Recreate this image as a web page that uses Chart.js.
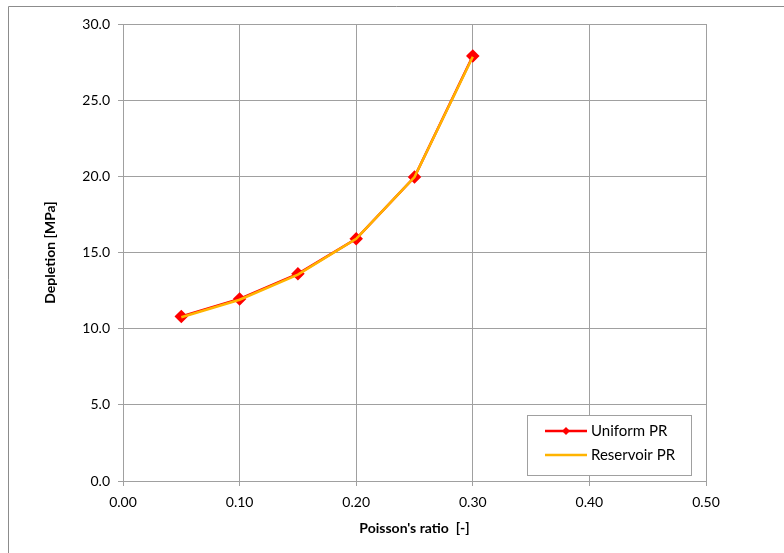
<!DOCTYPE html>
<html><head><meta charset="utf-8">
<script src="https://cdn.jsdelivr.net/npm/chart.js@4"></script>
<style>html,body{margin:0;padding:0;background:#fff;}#wrap{width:784px;height:553px;position:relative;}</style>
</head><body><div id="wrap"><canvas id="c" width="784" height="553"></canvas></div>
<script>
const poissonRatio = [0.05, 0.10, 0.15, 0.20, 0.25, 0.30];
const uniformPR = [10.8, 11.95, 13.6, 15.9, 19.95, 27.9];
const reservoirPR = [10.75, 11.9, 13.55, 15.9, 19.95, 27.85];
const seriesNames = ["Uniform PR", "Reservoir PR"];
const xTitle = "Poisson's ratio  [-]";
const yTitle = "Depletion [MPa]";

const FONT = "Lato, 'Open Sans', sans-serif";
const gridColor = '#a0a0a0';

const framePlugin = {
  id: 'frame',
  beforeDraw(chart) {
    const ctx = chart.ctx;
    ctx.save();
    ctx.fillStyle = '#fff';
    ctx.fillRect(0, 0, chart.width, chart.height);
    ctx.strokeStyle = '#8c8c8c';
    ctx.lineWidth = 1;
    ctx.beginPath();
    ctx.moveTo(8.5, chart.height);
    ctx.lineTo(8.5, 6.5);
    ctx.lineTo(chart.width, 6.5);
    ctx.stroke();
    ctx.restore();
  }
};

const legendPlugin = {
  id: 'boxLegend',
  afterDraw(chart) {
    const ctx = chart.ctx;
    const ds = chart.data.datasets;
    const x0 = 527, y0 = 415, w = 164, h = 60;
    ctx.save();
    ctx.fillStyle = '#fff';
    ctx.fillRect(x0, y0, w, h);
    ctx.strokeStyle = '#a0a0a0';
    ctx.lineWidth = 1;
    ctx.strokeRect(x0 + 0.5, y0 + 0.5, w, h);
    ds.forEach((d, i) => {
      const cy = y0 + 16 + i * 24;
      ctx.strokeStyle = d.borderColor;
      ctx.lineWidth = 2.5;
      ctx.beginPath();
      ctx.moveTo(x0 + 18, cy);
      ctx.lineTo(x0 + 60, cy);
      ctx.stroke();
      if (d.pointRadius > 0) {
        ctx.fillStyle = d.pointBackgroundColor;
        ctx.beginPath();
        const cx = x0 + 39, r = 4;
        ctx.moveTo(cx, cy - r); ctx.lineTo(cx + r, cy); ctx.lineTo(cx, cy + r); ctx.lineTo(cx - r, cy); ctx.closePath();
        ctx.fill();
      }
      ctx.fillStyle = '#000';
      ctx.font = '15px ' + FONT;
      ctx.textBaseline = 'middle';
      ctx.textAlign = 'left';
      ctx.fillText(d.label, x0 + 64, cy);
    });
    ctx.restore();
  }
};

new Chart(document.getElementById('c'), {
  type: 'line',
  data: {
    datasets: [
      {
        label: seriesNames[0],
        data: poissonRatio.map((x, i) => ({x, y: uniformPR[i]})),
        borderColor: '#ff0000',
        backgroundColor: '#ff0000',
        pointBackgroundColor: '#ff0000',
        pointBorderColor: '#ff0000',
        pointStyle: 'rectRot',
        pointRadius: 5,
        borderWidth: 2.5,
        tension: 0,
        order: 2
      },
      {
        label: seriesNames[1],
        data: poissonRatio.map((x, i) => ({x, y: reservoirPR[i]})),
        borderColor: '#ffb400',
        backgroundColor: '#ffb400',
        pointBackgroundColor: '#ffb400',
        pointRadius: 0,
        borderWidth: 2.5,
        tension: 0,
        order: 1
      }
    ]
  },
  options: {
    responsive: false,
    animation: false,
    events: [],
    layout: { padding: { left: 38, right: 78, top: 24, bottom: 12 } },
    plugins: { legend: { display: false }, tooltip: { enabled: false } },
    scales: {
      x: {
        type: 'linear', min: 0, max: 0.5,
        ticks: { stepSize: 0.1, color: '#000', font: { family: FONT, size: 14 }, padding: 8,
          callback: v => Number(v).toFixed(2) },
        grid: { color: gridColor, lineWidth: 1, tickLength: 5, tickColor: gridColor },
        border: { color: gridColor, width: 1 },
        title: { display: true, text: xTitle, color: '#000', font: { family: FONT, size: 14, weight: 'bold' }, padding: { top: 6 } },
        afterFit(s) { s.height = 60; }
      },
      y: {
        min: 0, max: 30,
        ticks: { stepSize: 5, color: '#000', font: { family: FONT, size: 14 }, padding: 8,
          callback: v => Number(v).toFixed(1) },
        grid: { color: gridColor, lineWidth: 1, tickLength: 5, tickColor: gridColor },
        border: { color: gridColor, width: 1 },
        title: { display: true, text: yTitle, color: '#000', font: { family: FONT, size: 14, weight: 'bold' }, padding: { bottom: 8 } },
        afterFit(s) { s.width = 85; }
      }
    }
  },
  plugins: [framePlugin, legendPlugin]
});
</script></body></html>
